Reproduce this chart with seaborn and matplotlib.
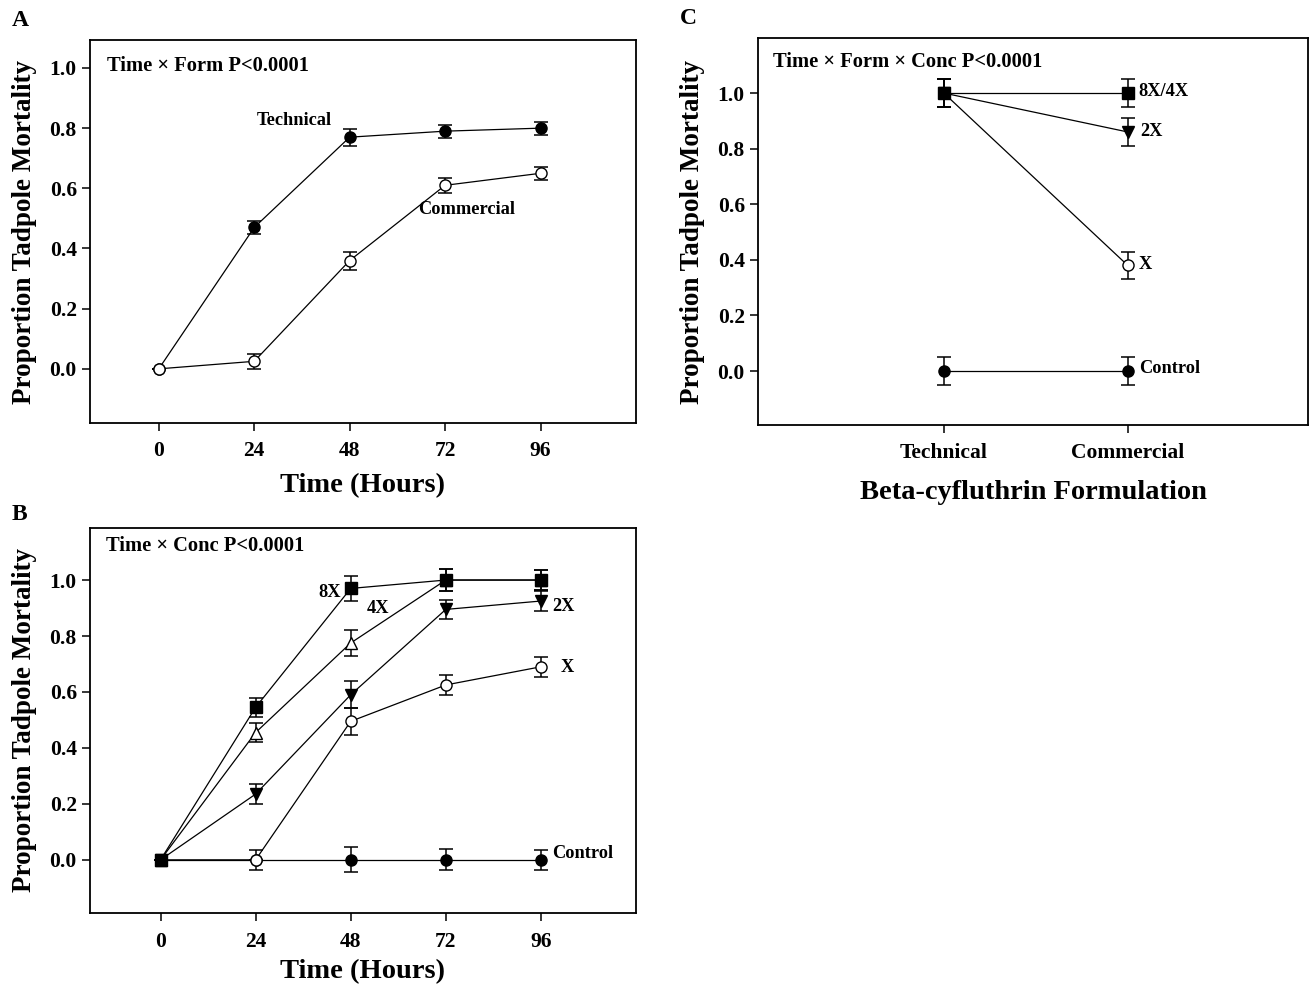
import matplotlib
matplotlib.use("Agg")
import matplotlib.pyplot as plt
import seaborn as sns
import numpy as np
import pandas as pd

sns.set_theme(style="ticks")
plt.rcParams['font.family'] = ['Liberation Serif', 'DejaVu Serif']
plt.rcParams['font.weight'] = 'bold'
plt.rcParams['text.color'] = 'black'
plt.rcParams['axes.labelcolor'] = 'black'
plt.rcParams['xtick.color'] = 'black'
plt.rcParams['ytick.color'] = 'black'

# ---------------- data ----------------
hours = [0, 24, 48, 72, 96]
hour_labels = ["0", "24", "48", "72", "96"]

# Panel A
tech_mean = [0.0, 0.47, 0.77, 0.79, 0.80]
tech_err = [0.0, 0.022, 0.028, 0.022, 0.022]
comm_mean = [0.0, 0.025, 0.36, 0.61, 0.65]
comm_err = [0.0, 0.025, 0.030, 0.025, 0.022]

# Panel B
c8x_mean = [0.0, 0.545, 0.97, 1.0, 1.0]
c8x_err = [0.0, 0.035, 0.045, 0.038, 0.035]
c4x_mean = [0.0, 0.455, 0.775, 1.0, 1.0]
c4x_err = [0.0, 0.035, 0.045, 0.038, 0.035]
c2x_mean = [0.0, 0.235, 0.59, 0.895, 0.925]
c2x_err = [0.0, 0.037, 0.048, 0.035, 0.035]
c1x_mean = [0.0, 0.0, 0.495, 0.625, 0.69]
c1x_err = [0.0, 0.035, 0.048, 0.035, 0.035]
ctl_mean = [0.0, 0.0, 0.0, 0.0, 0.0]
ctl_err = [0.0, 0.0, 0.045, 0.038, 0.035]

# Panel C
forms = ["Technical", "Commercial"]
f8x4x_mean = [1.0, 1.0]
f2x_mean = [1.0, 0.86]
f1x_mean = [1.0, 0.38]
fctl_mean = [0.0, 0.0]
fc_err = [0.05, 0.05]
f2x_err = [0.05, 0.05]
f1x_err = [0.05, 0.05]

W, H = 1310, 989
fig = plt.figure(figsize=(W / 100, H / 100), dpi=100)

def px_axes(left, top, right, bottom):
    return fig.add_axes([left / W, (H - bottom) / H, (right - left) / W, (bottom - top) / H])

axA = px_axes(90, 40, 636, 423)
axB = px_axes(90, 528, 636, 913)
axC = px_axes(758, 38, 1308, 425)

TICK_FS = 15.5
LAB_FS = 19.5
PV_FS = 14.8
ANN_FS = 13.2
LW = 0.9
MS = 8

def series(ax, x, y, yerr, marker, face):
    df = pd.DataFrame({"x": x, "y": y})
    sns.lineplot(data=df, x="x", y="y", ax=ax, color="black", linewidth=LW,
                 marker=marker, markersize=MS, markerfacecolor=face,
                 markeredgecolor="black", markeredgewidth=1.0, zorder=3,
                 estimator=None, sort=False)
    ax.errorbar(x, y, yerr=yerr, fmt="none", ecolor="black", elinewidth=1.1,
                capsize=5, capthick=1.1, zorder=2)

def style(ax, xpad):
    for s in ax.spines.values():
        s.set_linewidth(1.3)
        s.set_color("black")
        s.set_visible(True)
    ax.tick_params(axis="both", direction="out", length=6, width=1.1,
                   colors="black", labelsize=TICK_FS)
    ax.tick_params(axis="x", pad=xpad)
    for lab in ax.get_xticklabels() + ax.get_yticklabels():
        lab.set_fontweight("bold")
    ax.set_facecolor("white")

yt = [0.0, 0.2, 0.4, 0.6, 0.8, 1.0]
ytl = ["0.0", "0.2", "0.4", "0.6", "0.8", "1.0"]

# ---------------- Panel A ----------------
series(axA, hours, tech_mean, tech_err, "o", "black")
series(axA, hours, comm_mean, comm_err, "o", "white")
axA.set_xlim(-17.3, 120)
axA.set_ylim(-0.18, 1.093)
axA.set_xticks(hours)
axA.set_xticklabels(hour_labels)
axA.set_yticks(yt)
axA.set_yticklabels(ytl)
axA.set_xlabel("Time (Hours)", fontsize=LAB_FS + 1, fontweight="bold", labelpad=9)
axA.set_ylabel("Proportion Tadpole Mortality", fontsize=LAB_FS, fontweight="bold", labelpad=9)
axA.text(-13, 1.005, "Time × Form P<0.0001", fontsize=PV_FS, fontweight="bold", va="center", ha="left")
axA.text(34, 0.825, "Technical", fontsize=ANN_FS, fontweight="bold", va="center", ha="center")
axA.text(77.5, 0.53, "Commercial", fontsize=ANN_FS, fontweight="bold", va="center", ha="center")
style(axA, 7)

# ---------------- Panel B ----------------
series(axB, hours, ctl_mean, ctl_err, "o", "black")
series(axB, hours, c1x_mean, c1x_err, "o", "white")
series(axB, hours, c2x_mean, c2x_err, "v", "black")
series(axB, hours, c4x_mean, c4x_err, "^", "white")
series(axB, hours, c8x_mean, c8x_err, "s", "black")
axB.set_xlim(-17.8, 120)
axB.set_ylim(-0.19, 1.186)
axB.set_xticks(hours)
axB.set_xticklabels(hour_labels)
axB.set_yticks(yt)
axB.set_yticklabels(ytl)
axB.set_xlabel("Time (Hours)", fontsize=LAB_FS + 1, fontweight="bold", labelpad=5)
axB.set_ylabel("Proportion Tadpole Mortality", fontsize=LAB_FS, fontweight="bold", labelpad=9)
axB.text(-13.8, 1.12, "Time × Conc P<0.0001", fontsize=PV_FS, fontweight="bold", va="center", ha="left")
axB.text(42.8, 0.957, "8X", fontsize=ANN_FS, fontweight="bold", va="center", ha="center")
axB.text(54.8, 0.898, "4X", fontsize=ANN_FS, fontweight="bold", va="center", ha="center")
axB.text(98.8, 0.905, "2X", fontsize=ANN_FS, fontweight="bold", va="center", ha="left")
axB.text(101, 0.688, "X", fontsize=ANN_FS, fontweight="bold", va="center", ha="left")
axB.text(98.8, 0.023, "Control", fontsize=ANN_FS, fontweight="bold", va="center", ha="left")
style(axB, 7.5)

# ---------------- Panel C ----------------
xc = [0, 1]
series(axC, xc, fctl_mean, fc_err, "o", "black")
series(axC, xc, f1x_mean, f1x_err, "o", "white")
series(axC, xc, f2x_mean, f2x_err, "v", "black")
series(axC, xc, f8x4x_mean, fc_err, "s", "black")
axC.set_xlim(-1.01, 1.98)
axC.set_ylim(-0.194, 1.198)
axC.set_xticks(xc)
axC.set_xticklabels(forms)
axC.set_yticks(yt)
axC.set_yticklabels(ytl)
axC.set_xlabel("Beta-cyfluthrin Formulation", fontsize=LAB_FS + 1, fontweight="bold", labelpad=12)
axC.set_ylabel("Proportion Tadpole Mortality", fontsize=LAB_FS, fontweight="bold", labelpad=9)
axC.text(-0.93, 1.11, "Time × Form × Conc P<0.0001", fontsize=PV_FS, fontweight="bold", va="center", ha="left")
axC.text(1.06, 1.005, "8X/4X", fontsize=ANN_FS, fontweight="bold", va="center", ha="left")
axC.text(1.07, 0.862, "2X", fontsize=ANN_FS, fontweight="bold", va="center", ha="left")
axC.text(1.06, 0.382, "X", fontsize=ANN_FS, fontweight="bold", va="center", ha="left")
axC.text(1.06, 0.008, "Control", fontsize=ANN_FS, fontweight="bold", va="center", ha="left")
style(axC, 7)

# panel letters
fig.text(12 / W, 1 - 20 / H, "A", fontsize=17, fontweight="bold", va="center", ha="left")
fig.text(12 / W, 1 - 515 / H, "B", fontsize=17, fontweight="bold", va="center", ha="left")
fig.text(680 / W, 1 - 18 / H, "C", fontsize=17, fontweight="bold", va="center", ha="left")

fig.savefig("out.png", dpi=100, facecolor="white")
